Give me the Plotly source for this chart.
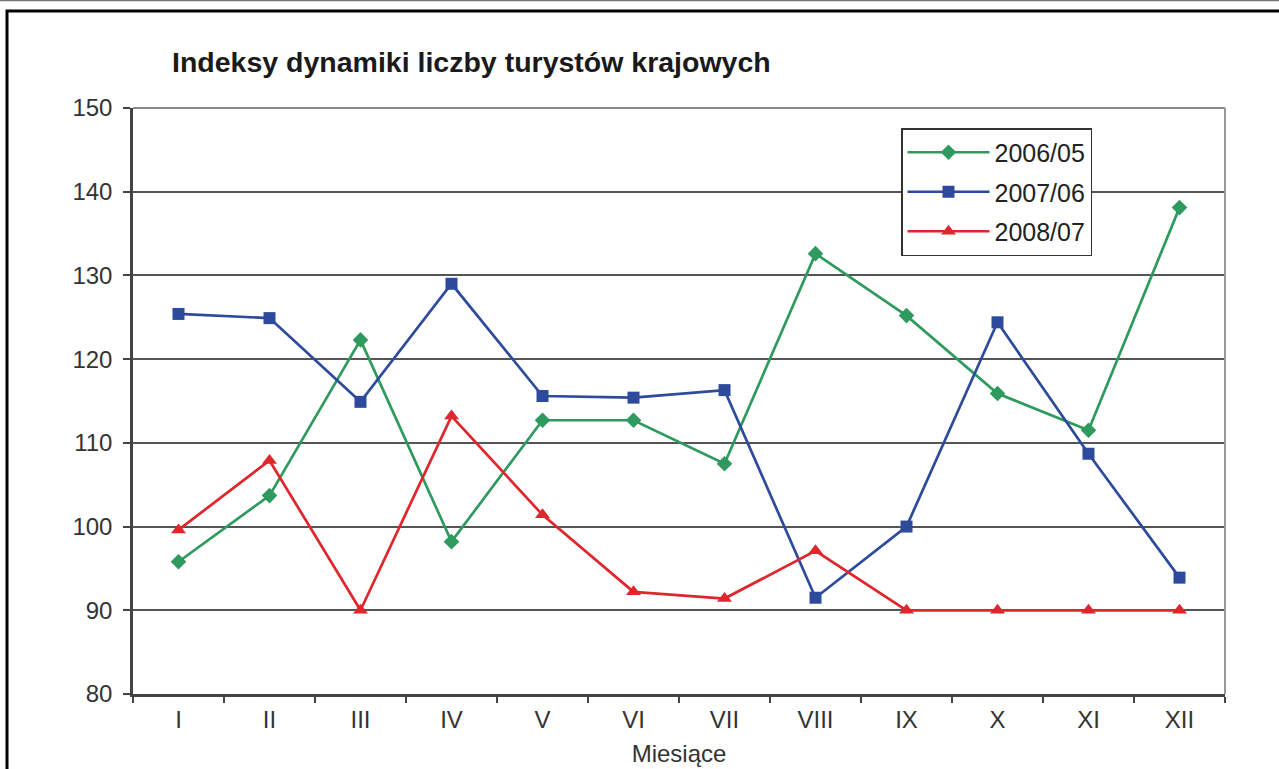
import plotly.graph_objects as go

months = ["I", "II", "III", "IV", "V", "VI", "VII", "VIII", "IX", "X", "XI", "XII"]
s2006 = [95.8, 103.7, 122.3, 98.2, 112.7, 112.7, 107.5, 132.6, 125.2, 115.9, 111.5, 138.1]
s2007 = [125.4, 124.9, 114.9, 129.0, 115.6, 115.4, 116.3, 91.5, 100.0, 124.4, 108.7, 93.9]
s2008 = [99.6, 107.9, 90.0, 113.2, 101.4, 92.2, 91.4, 97.1, 90.0, 90.0, 90.0, 90.0]
names = ["2006/05", "2007/06", "2008/07"]
yticks = [80, 90, 100, 110, 120, 130, 140, 150]

FONT = "Liberation Sans, Arial, sans-serif"
W, H = 1279, 769
L, R, T, B = 133, 1225, 108, 694
PW, PH = R - L, B - T

fig = go.Figure()
styles = [
    ("#2E9A5E", "diamond", 12),
    ("#2D4A9C", "square", 12),
    ("#E0262C", "triangle-up", 13),
]
for i, (name, vals, (col, sym, sz)) in enumerate(zip(names, [s2006, s2007, s2008], styles)):
    fig.add_trace(go.Scatter(
        x=months, y=vals, name=name, mode="lines+markers", legendgroup=str(i),
        line=dict(color=col, width=2.7),
        marker=dict(color=col, symbol=sym, size=sz, line=dict(width=0)),
    ))

def px(x):
    return (x - L) / PW

def py(y):
    return (B - y) / PH

fig.update_layout(
    width=W, height=H,
    margin=dict(l=L, r=W - R, t=T, b=H - B, autoexpand=False),
    paper_bgcolor="white", plot_bgcolor="white",
    font=dict(family=FONT, size=24, color="#333333"),
    title=dict(text="<b>Indeksy dynamiki liczby turystów krajowych</b>",
               x=172 / W, xanchor="left", y=1 - 62 / H, yanchor="middle",
               font=dict(family=FONT, size=28.5, color="#1a1a1a")),
    showlegend=True,
    legend=dict(x=px(901), y=py(128), xanchor="left", yanchor="top",
                bgcolor="white", bordercolor="#333333", borderwidth=1.5,
                font=dict(family=FONT, size=25, color="#222222"),
                itemwidth=82, tracegroupgap=4),
    xaxis=dict(type="category", categoryorder="array", categoryarray=months,
               range=[-0.5, 11.5], automargin=False,
               tickson="boundaries", ticks="outside", ticklen=6, tickwidth=2,
               tickcolor="#444444", showline=True, linecolor="#444444", linewidth=3,
               showgrid=False, mirror=False,
               title=dict(text="Miesiące", font=dict(family=FONT, size=24, color="#333333"),
                          standoff=14),
               ticklabelstandoff=2),
    yaxis=dict(range=[80, 150], tickvals=yticks, ticks="outside", ticklen=7,
               tickwidth=2, tickcolor="#444444", automargin=False,
               showline=True, linecolor="#444444", linewidth=2.5,
               showgrid=True, gridcolor="#555555", gridwidth=2,
               zeroline=False, ticklabelstandoff=6),
    shapes=[
        dict(type="line", xref="paper", yref="paper", x0=0, x1=1, y0=1, y1=1,
             line=dict(color="#888888", width=2)),
        dict(type="line", xref="paper", yref="paper", x0=1, x1=1, y0=0, y1=1,
             line=dict(color="#999999", width=2)),
        dict(type="rect", xref="paper", yref="paper",
             x0=px(7), x1=px(1300), y0=py(790), y1=py(11),
             line=dict(color="black", width=3), layer="above"),
        dict(type="line", xref="paper", yref="paper",
             x0=px(-10), x1=px(1300), y0=py(0.5), y1=py(0.5),
             line=dict(color="#777777", width=1.5)),
    ],
)

fig.write_html("out.html", config={"displayModeBar": False},
               post_script="document.body.style.margin='0';document.body.style.overflow='hidden';")
